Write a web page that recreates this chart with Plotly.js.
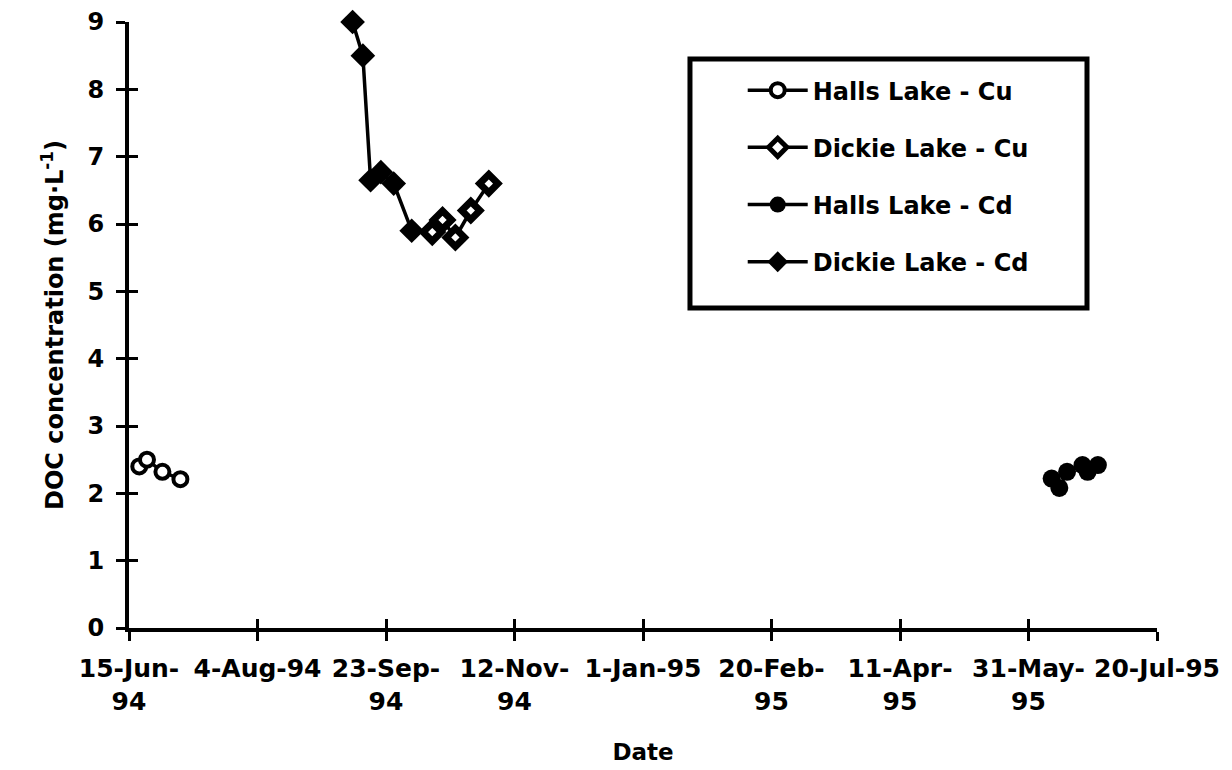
<!DOCTYPE html>
<html>
<head>
<meta charset="utf-8">
<script src="https://cdn.plot.ly/plotly-3.0.1.min.js"></script>
<style>html,body{margin:0;padding:0;background:#fff;}#chart{width:1232px;height:770px;}</style>
</head>
<body>
<div id="chart"></div>
<script>
// ---- Data ----
const hallsCuDates = ['1994-06-19', '1994-06-22', '1994-06-28', '1994-07-05'];
const hallsCuDOC   = [2.4, 2.5, 2.32, 2.21];

const dickieCuDates = ['1994-10-11', '1994-10-15', '1994-10-20', '1994-10-26', '1994-11-02'];
const dickieCuDOC   = [5.88, 6.06, 5.8, 6.2, 6.6];

const hallsCdDates = ['1995-06-09', '1995-06-12', '1995-06-15', '1995-06-21', '1995-06-23', '1995-06-27'];
const hallsCdDOC   = [2.22, 2.08, 2.32, 2.42, 2.32, 2.42];

const dickieCdDates = ['1994-09-10', '1994-09-14', '1994-09-17', '1994-09-21', '1994-09-26', '1994-10-03'];
const dickieCdDOC   = [9.0, 8.5, 6.65, 6.77, 6.6, 5.9];

const seriesNames = ['Halls Lake - Cu', 'Dickie Lake - Cu', 'Halls Lake - Cd', 'Dickie Lake - Cd'];

const xTickVals = ['1994-06-15', '1994-08-04', '1994-09-23', '1994-11-12', '1995-01-01',
                   '1995-02-20', '1995-04-11', '1995-05-31', '1995-07-20'];
const xTickText = ['15-Jun-<br>94', '4-Aug-94', '23-Sep-<br>94', '12-Nov-<br>94', '1-Jan-95',
                   '20-Feb-<br>95', '11-Apr-<br>95', '31-May-<br>95', '20-Jul-95'];
const yTickVals = [0, 1, 2, 3, 4, 5, 6, 7, 8, 9];

const xRange = ['1994-06-15', '1995-07-20'];
const yRange = [0, 9];

// ---- Traces ----
const FONT = 'DejaVu Sans';
const lineStyle = {color: '#000', width: 3.5};

const traces = [
  {
    x: hallsCuDates, y: hallsCuDOC, name: seriesNames[0], legendgroup: 'g1',
    type: 'scatter', mode: 'lines+markers', cliponaxis: false,
    line: lineStyle,
    marker: {symbol: 'circle', size: 14, color: '#fff', line: {color: '#000', width: 4}}
  },
  {
    x: dickieCuDates, y: dickieCuDOC, name: seriesNames[1], legendgroup: 'g2',
    type: 'scatter', mode: 'lines+markers', cliponaxis: false,
    line: lineStyle,
    marker: {symbol: 'diamond', size: 14, color: '#fff', line: {color: '#000', width: 7}}
  },
  {
    x: hallsCdDates, y: hallsCdDOC, name: seriesNames[2], legendgroup: 'g3',
    type: 'scatter', mode: 'lines+markers', cliponaxis: false,
    line: lineStyle,
    marker: {symbol: 'circle', size: 18, color: '#000'}
  },
  {
    x: dickieCdDates, y: dickieCdDOC, name: seriesNames[3], legendgroup: 'g4',
    type: 'scatter', mode: 'lines+markers', cliponaxis: false,
    line: lineStyle,
    marker: {symbol: 'diamond', size: 19, color: '#000'}
  },
  // empty helper trace so the overlay axes (inner half of the crossing ticks) are drawn
  {x: [], y: [], xaxis: 'x2', yaxis: 'y2', type: 'scatter', mode: 'markers',
   showlegend: false, hoverinfo: 'skip'}
];

const layout = {
  width: 1232, height: 770,
  margin: {l: 129, r: 75, t: 22, b: 142},
  paper_bgcolor: '#fff', plot_bgcolor: '#fff',
  font: {family: FONT, color: '#000', weight: 'bold'},
  showlegend: true,
  xaxis: {
    type: 'date', range: xRange, autorange: false, fixedrange: true,
    tickmode: 'array', tickvals: xTickVals, ticktext: xTickText,
    tickfont: {family: FONT, size: 25, color: '#000', weight: 'bold'},
    ticks: 'outside', ticklen: 9, tickwidth: 3, tickcolor: '#000',
    showline: true, linecolor: '#000', linewidth: 4, showgrid: false, zeroline: false,
    ticklabelstandoff: 6,
    title: {text: 'Date', font: {family: FONT, size: 23, color: '#000', weight: 'bold'}, standoff: 30}
  },
  yaxis: {
    range: yRange, autorange: false, fixedrange: true,
    tickmode: 'array', tickvals: yTickVals,
    tickfont: {family: FONT, size: 24, color: '#000', weight: 'bold'},
    ticks: 'outside', ticklen: 9, tickwidth: 3, tickcolor: '#000',
    showline: true, linecolor: '#000', linewidth: 4, showgrid: false, zeroline: false,
    ticklabelstandoff: 7,
    title: {text: 'DOC concentration (mg·L<sup>-1</sup>)',
            font: {family: FONT, size: 24, color: '#000', weight: 'bold'}, standoff: 18}
  },
  xaxis2: {
    type: 'date', overlaying: 'x', anchor: 'y', range: xRange, autorange: false, fixedrange: true,
    tickmode: 'array', tickvals: xTickVals, showticklabels: false,
    ticks: 'inside', ticklen: 9, tickwidth: 3, tickcolor: '#000',
    showline: false, showgrid: false, zeroline: false
  },
  yaxis2: {
    overlaying: 'y', anchor: 'x', range: yRange, autorange: false, fixedrange: true,
    tickmode: 'array', tickvals: yTickVals, showticklabels: false,
    ticks: 'inside', ticklen: 9, tickwidth: 3, tickcolor: '#000',
    showline: false, showgrid: false, zeroline: false
  },
  legend: {
    x: 0.597, y: 0.924, xanchor: 'left', yanchor: 'top',
    bgcolor: 'rgba(0,0,0,0)', borderwidth: 0,
    font: {family: FONT, size: 24, color: '#000', weight: 'bold'},
    traceorder: 'grouped', tracegroupgap: 23, itemwidth: 60
  },
  shapes: [
    {type: 'rect', xref: 'paper', yref: 'paper', x0: 0.5457, x1: 0.9319, y0: 0.528, y1: 0.939,
     line: {color: '#000', width: 5}, fillcolor: 'rgba(0,0,0,0)', layer: 'below'}
  ]
};

Plotly.newPlot('chart', traces, layout, {displayModeBar: false, staticPlot: true});
</script>
</body>
</html>
